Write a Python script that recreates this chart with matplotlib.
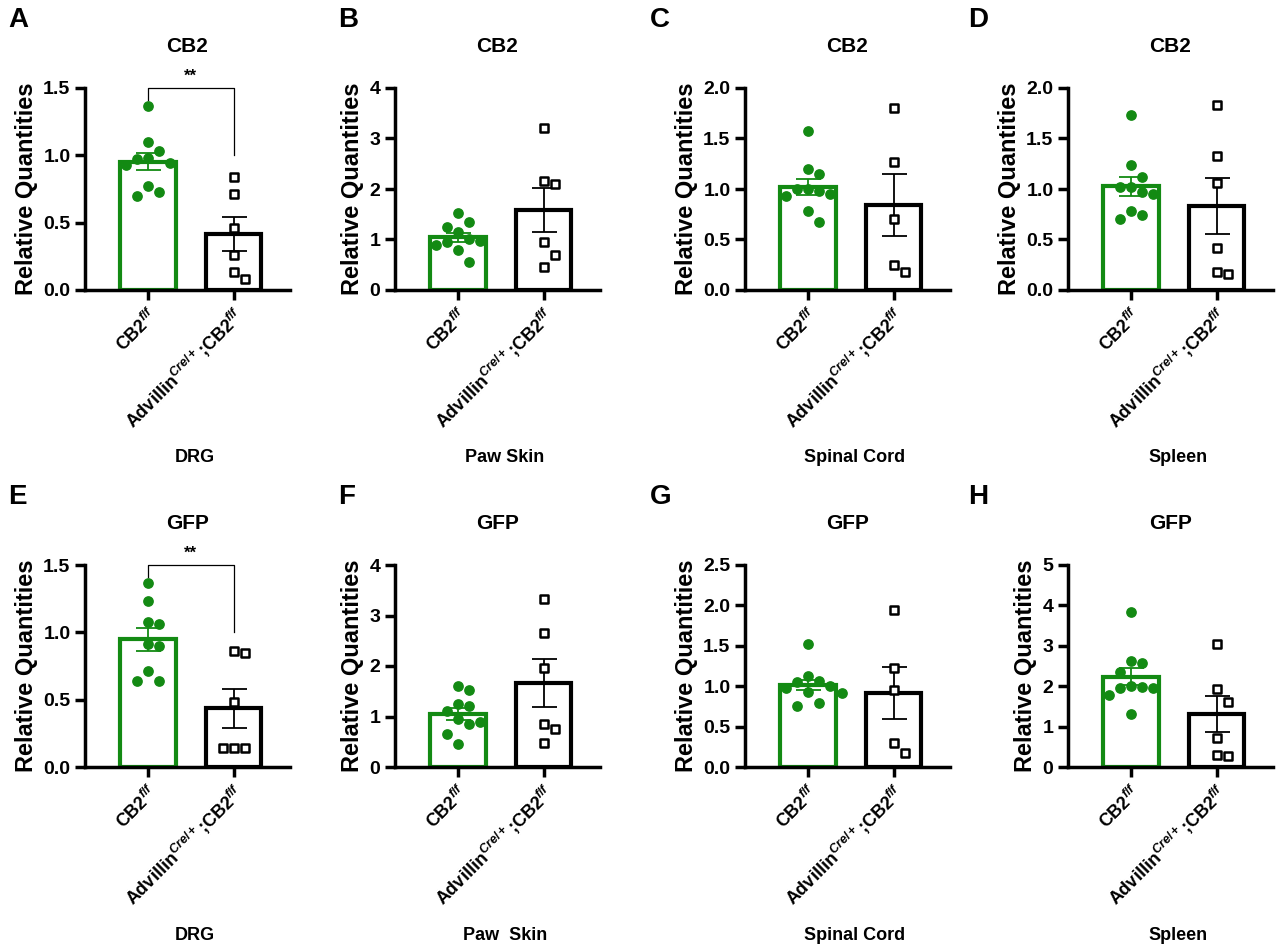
import numpy as np
import matplotlib.pyplot as plt

plt.rcParams['font.family'] = ['Liberation Sans', 'DejaVu Sans']
plt.rcParams['font.weight'] = 'bold'
plt.rcParams['mathtext.fontset'] = 'custom'
plt.rcParams['mathtext.rm'] = 'Liberation Sans:bold'
plt.rcParams['mathtext.it'] = 'Liberation Sans:bold:italic'

letters = ['A', 'B', 'C', 'D', 'E', 'F', 'G', 'H']
titles = ['CB2'] * 4 + ['GFP'] * 4
tissues = ['DRG', 'Paw Skin', 'Spinal Cord', 'Spleen', 'DRG', 'Paw  Skin', 'Spinal Cord', 'Spleen']
ymax = [1.5, 4, 2.0, 2.0, 1.5, 4, 2.5, 5]
ystep = [0.5, 1, 0.5, 0.5, 0.5, 1, 0.5, 1]
sig = [True, False, False, False, True, False, False, False]

wt = [
    [1.37, 1.10, 1.03, 0.98, 0.97, 0.94, 0.93, 0.77, 0.70, 0.73],
    [1.52, 1.35, 1.25, 1.15, 1.00, 0.98, 0.95, 0.80, 0.55, 0.90],
    [1.57, 1.20, 1.15, 1.00, 1.00, 0.95, 0.93, 0.98, 0.78, 0.67],
    [1.73, 1.24, 1.12, 1.02, 1.02, 0.97, 0.95, 0.78, 0.70, 0.74],
    [1.37, 1.23, 1.08, 1.06, 0.91, 0.90, 0.71, 0.64, 0.64],
    [1.60, 1.52, 1.25, 1.20, 1.10, 0.95, 0.90, 0.85, 0.65, 0.45],
    [1.52, 1.13, 1.07, 1.05, 1.00, 0.98, 0.93, 0.92, 0.76, 0.79],
    [3.83, 2.63, 2.57, 2.35, 2.00, 1.95, 1.95, 1.98, 1.78, 1.30],
]
ko = [
    [0.84, 0.71, 0.46, 0.26, 0.13, 0.08],
    [3.20, 2.15, 2.10, 0.95, 0.70, 0.45],
    [1.80, 1.27, 0.70, 0.25, 0.18],
    [1.83, 1.33, 1.06, 0.42, 0.18, 0.16],
    [0.85, 0.86, 0.48, 0.14, 0.14, 0.14],
    [3.33, 2.65, 1.97, 0.85, 0.75, 0.48],
    [1.94, 1.23, 0.95, 0.30, 0.17],
    [3.05, 1.93, 1.60, 0.72, 0.27, 0.30],
]
groups = [r'CB2$^{f/f}$', r'Advillin$^{Cre/+}$;CB2$^{f/f}$']
green = '#138a13'


def swarm(vals, top, dx=0.13, dy=0.075):
    # simple beeswarm offsets
    placed = []
    offs = np.zeros(len(vals))
    for i in np.argsort(vals)[::-1]:
        y = vals[i] / top
        for k in [0, 1, -1, 2, -2, 3, -3]:
            x = k * dx
            if all((x - px) ** 2 / dx ** 2 + (y - py) ** 2 / dy ** 2 >= 1 for px, py in placed):
                break
        offs[i] = x
        placed.append((x, y))
    return offs


fig = plt.figure(figsize=(12.8, 9.48), dpi=100)
W, H = 1280, 948
lefts = [85, 395, 745, 1068]
tops = [88, 565]
aw, ah = 205, 202
letter_x = [8, 338, 650, 968]

for i in range(8):
    r, c = divmod(i, 4)
    ax = fig.add_axes([lefts[c] / W, 1 - (tops[r] + ah) / H, aw / W, ah / H])
    for j, (vals, col, mk) in enumerate([(wt[i], green, 'o'), (ko[i], 'black', 's')]):
        v = np.array(vals)
        m = v.mean()
        se = v.std(ddof=1) / np.sqrt(len(v))
        ax.bar(j, m, width=0.65, facecolor='white', edgecolor=col, linewidth=3, zorder=1)
        ax.errorbar(j, m, yerr=se, color=col, capsize=9, elinewidth=1.3, capthick=1.3, zorder=3)
        xs = j + swarm(v, ymax[i])
        if mk == 'o':
            ax.scatter(xs, v, s=45, color=col, marker='o', zorder=2, clip_on=False)
        else:
            ax.scatter(xs, v, s=38, facecolor='white', edgecolor='black', linewidth=1.8,
                       marker='s', zorder=4, clip_on=False)
    ax.set_xlim(-0.74, 1.66)
    ax.set_ylim(0, ymax[i])
    ax.set_yticks(np.arange(0, ymax[i] + 1e-9, ystep[i]))
    if ystep[i] < 1:
        ax.set_yticklabels([f'{t:.1f}' for t in ax.get_yticks()])
    ax.set_xticks([0, 1])
    ax.set_xticklabels(groups, rotation=45, ha='right', rotation_mode='anchor')
    ax.tick_params(axis='both', width=2.5, length=7, labelsize=14)
    ax.tick_params(axis='x', labelsize=13)
    for s in ['top', 'right']:
        ax.spines[s].set_visible(False)
    for s in ['left', 'bottom']:
        ax.spines[s].set_linewidth(2.5)
    ax.set_ylabel('Relative Quantities', fontsize=17, fontweight='bold')
    ax.set_title(titles[i], fontsize=15, fontweight='bold', pad=26)
    if sig[i]:
        hi = ymax[i]
        ax.plot([0, 0, 1, 1], [hi * 0.94, hi, hi, hi * 0.67], color='black', lw=0.9, clip_on=False)
        ax.text(0.5, hi * 1.02, '**', ha='center', va='bottom', fontsize=12)
    fig.text(letter_x[c] / W, 1 - (tops[r] - 68) / H, letters[i], fontsize=20,
             fontweight='bold', va='center')
    fig.text((lefts[c] + 110) / W, 1 - (tops[r] + 370) / H, tissues[i], fontsize=13,
             fontweight='bold', ha='center', va='center')

fig.savefig('out.png', dpi=100)
